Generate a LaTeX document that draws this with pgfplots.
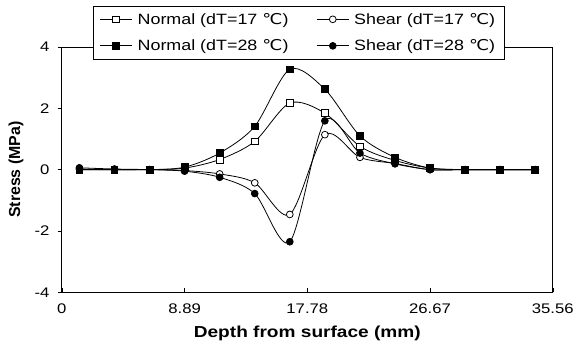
\documentclass[border=0pt]{standalone}
\usepackage{fontspec}
\setmainfont[FakeStretch=1.2]{Liberation Sans}
\newfontfamily\plainsans{Liberation Sans}
\newfontfamily\dejavu[FakeStretch=1.2]{DejaVu Sans}
\usepackage{pgfplots}
\pgfplotsset{compat=1.18}
\newcommand{\degC}{{\dejavu ℃}}
\begin{document}
\begin{tikzpicture}
\begin{axis}[
  scale only axis,
  width=492bp, height=246bp,
  xmin=0, xmax=35.56, ymin=-4, ymax=4,
  xtick={0,8.89,17.78,26.67,35.56},
  xticklabels={0,8.89,17.78,26.67,35.56},
  ytick={-4,-2,0,2,4},
  axis line style={black, line width=0.8pt},
  xtick pos=bottom, ytick pos=left,
  xtick align=inside, ytick align=outside,
  major tick length=4bp,
  tick style={black, line width=0.6pt},
  /pgf/number format/assume math mode=true,
  ticklabel style={font=\fontsize{14}{16}\selectfont},
  xticklabel style={yshift=-8bp},
  yticklabel style={xshift=-5bp},
  xlabel={\textbf{Depth from surface (mm)}},
  ylabel={\plainsans\bfseries Stress (MPa)},
  label style={font=\fontsize{16}{18}\selectfont},
  xlabel style={at={(axis description cs:0.5,0)}, anchor=center, yshift=-41bp},
  ylabel style={at={(axis description cs:0,0.5)}, anchor=center, yshift=46bp},
  legend columns=2,
  legend style={at={(0.482,1.168)}, anchor=north, draw=black, line width=0.8pt,
    font=\fontsize{15}{17}\selectfont, column sep=3bp,
    /tikz/every even column/.append style={column sep=26bp},
    inner xsep=7bp, inner ysep=5bp, row sep=10bp},
  legend image code/.code={\draw[line width=0.8pt, mark repeat=2, mark phase=2] plot coordinates {(0bp,0bp)(16bp,0bp)(32bp,0bp)};},
  every axis plot/.append style={black, line width=0.8pt, smooth, mark size=3.4bp},
]
\addplot[mark=square*, mark options={fill=white}] coordinates {
(1.27,0.0)(3.81,0.0)(6.35,0.0)(8.89,0.05)(11.43,0.33)(13.97,0.92)(16.51,2.17)(19.05,1.84)(21.59,0.76)(24.13,0.3)(26.67,0.05)(29.21,0.0)(31.75,0.0)(34.29,0.0)};
\addlegendentry{Normal (dT=17 \degC)}
\addplot[mark=*, mark options={fill=white}] coordinates {
(1.27,0.02)(3.81,0.0)(6.35,0.0)(8.89,-0.03)(11.43,-0.14)(13.97,-0.43)(16.51,-1.46)(19.05,1.14)(21.59,0.4)(24.13,0.2)(26.67,0.0)(29.21,0.0)(31.75,0.0)(34.29,0.0)};
\addlegendentry{Shear (dT=17 \degC)}
\addplot[mark=square*, mark options={fill=black}] coordinates {
(1.27,0.0)(3.81,0.0)(6.35,0.0)(8.89,0.08)(11.43,0.54)(13.97,1.41)(16.51,3.27)(19.05,2.62)(21.59,1.1)(24.13,0.4)(26.67,0.05)(29.21,0.0)(31.75,0.0)(34.29,0.0)};
\addlegendentry{Normal (dT=28 \degC)}
\addplot[mark=*, mark options={fill=black}] coordinates {
(1.27,0.06)(3.81,0.02)(6.35,0.0)(8.89,-0.05)(11.43,-0.25)(13.97,-0.78)(16.51,-2.35)(19.05,1.59)(21.59,0.54)(24.13,0.19)(26.67,0.0)(29.21,0.0)(31.75,0.0)(34.29,0.0)};
\addlegendentry{Shear (dT=28 \degC)}
\end{axis}
\path (current axis.south west) ++(-62bp,-52bp) rectangle ++(577bp,345bp);
\end{tikzpicture}
\end{document}
